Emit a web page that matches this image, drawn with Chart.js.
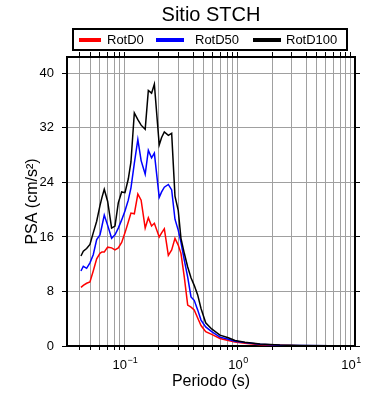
<!DOCTYPE html>
<html>
<head>
<meta charset="utf-8">
<script src="https://cdn.jsdelivr.net/npm/chart.js@4/dist/chart.umd.min.js"></script>
<style>
  html, body { margin: 0; padding: 0; background: #fff; }
</style>
</head>
<body>
<canvas id="myChart" width="390" height="400"></canvas>
<script>
// Spectral periods (s) and pseudo-acceleration values (cm/s2)
const periods = [0.0408, 0.0428, 0.0458, 0.049, 0.0524, 0.0562, 0.0601, 0.0626, 0.0656, 0.0703,
                 0.0762, 0.0816, 0.0873, 0.0935, 0.1, 0.107, 0.113, 0.121, 0.13, 0.139,
                 0.151, 0.161, 0.172, 0.182, 0.201, 0.211, 0.223, 0.242, 0.259, 0.277,
                 0.296, 0.313, 0.335, 0.359, 0.384, 0.41, 0.44, 0.471, 0.518, 0.585,
                 0.693, 0.821, 0.941, 1.15, 1.57, 2.35, 3.54, 6.52, 10];
const rotD0 = [8.6, 8.9, 9.2, 9.4, 11.0, 12.8, 13.6, 13.8, 13.8, 14.5,
               14.4, 14.1, 14.4, 15.2, 16.6, 18.2, 19.5, 19.4, 22.3, 21.4,
               17.3, 18.8, 17.6, 18.0, 16.0, 16.6, 17.2, 13.3, 14.1, 15.8,
               14.8, 13.6, 10.1, 6.0, 5.7, 5.3, 4.1, 3.0, 2.1, 1.7,
               1.1, 0.8, 0.6, 0.4, 0.2, 0.1, 0.05, 0.02, 0.01];
const rotD50 = [11.0, 11.7, 11.4, 12.2, 13.4, 15.6, 16.3, 17.6, 19.2, 17.7,
                15.8, 16.3, 17.3, 18.5, 19.8, 21.4, 23.2, 26.8, 30.3, 27.2,
                25.2, 28.7, 27.6, 28.3, 21.8, 22.6, 23.3, 23.7, 22.9, 18.6,
                17.0, 15.2, 12.6, 10.1, 7.2, 6.7, 5.3, 3.8, 2.8, 2.1,
                1.3, 1.0, 0.7, 0.5, 0.26, 0.12, 0.06, 0.03, 0.02];
const rotD100 = [13.2, 13.9, 14.3, 14.9, 16.6, 18.3, 20.6, 21.8, 23.0, 21.2,
                 17.3, 17.6, 21.0, 22.6, 22.5, 24.5, 27.0, 34.2, 33.2, 32.4,
                 31.8, 37.5, 37.1, 38.4, 29.5, 30.6, 31.4, 30.9, 31.2, 22.0,
                 19.9, 15.8, 13.6, 11.6, 10.0, 8.9, 7.5, 5.5, 3.4, 2.5,
                 1.6, 1.2, 0.8, 0.55, 0.3, 0.13, 0.07, 0.03, 0.02];

const seriesNames = ["RotD0", "RotD50", "RotD100"];
const seriesColors = ["#ff0000", "#0000ff", "#000000"];
const chartTitle = "Sitio STCH";

// Axis ticks
const xGridTicks = [0.04, 0.05, 0.06, 0.07, 0.08, 0.09,
                    0.1, 0.2, 0.3, 0.4, 0.5, 0.6, 0.7, 0.8, 0.9,
                    1, 2, 3, 4, 5, 6, 7, 8, 9, 10];
const xMajorTicks = [0.1, 1, 10];
const xMajorExps = ["\u22121", "0", "1"];
const yTicks = [0, 8, 16, 24, 32, 40];

const X_MIN = 0.0307, X_MAX = 10.85;
const Y_MIN = 0, Y_MAX = 42.4;
const FONT = '"Liberation Sans", Arial, Helvetica, sans-serif';

const seriesValues = [rotD0, rotD50, rotD100];

function setXTicks(scale) {
    scale.ticks = xGridTicks.map(v => ({ value: v, major: xMajorTicks.includes(v) }));
}
function setYTicks(scale) {
    scale.ticks = yTicks.map(v => ({ value: v }));
}

// title, boxed legend and 10^n labels like the original figure
const titleLegend = {
    id: "titleLegend",
    afterDraw(chart) {
        const ctx = chart.ctx;
        const area = chart.chartArea;
        ctx.save();
        ctx.fillStyle = "#000";
        ctx.font = "20px " + FONT;
        ctx.textAlign = "center";
        ctx.textBaseline = "middle";
        ctx.fillText(chartTitle, (area.left + area.right) / 2, 15);

        ctx.lineWidth = 2;
        ctx.strokeStyle = "#000";
        ctx.strokeRect(73, 29, 274, 21);

        const lineStart = [79, 156, 253];
        const lineEnd = [101, 184, 281];
        const textStart = [107, 195, 286];
        ctx.font = "13px " + FONT;
        ctx.textAlign = "left";
        chart.data.datasets.forEach((ds, i) => {
            ctx.strokeStyle = ds.borderColor;
            ctx.lineWidth = 4;
            ctx.beginPath();
            ctx.moveTo(lineStart[i], 40);
            ctx.lineTo(lineEnd[i], 40);
            ctx.stroke();
            ctx.fillStyle = "#000";
            ctx.fillText(ds.label, textStart[i], 40);
        });

        // x tick labels as 10 with a raised exponent
        const xs = chart.scales.x;
        ctx.textBaseline = "alphabetic";
        ctx.fillStyle = "#000";
        xMajorTicks.forEach((v, i) => {
            const px = xs.getPixelForValue(v);
            ctx.font = "13px " + FONT;
            const wBase = ctx.measureText("10").width;
            ctx.font = "9px " + FONT;
            const wExp = ctx.measureText(xMajorExps[i]).width;
            const x0 = px - (wBase + wExp) / 2;
            ctx.font = "13px " + FONT;
            ctx.fillText("10", x0, 369);
            ctx.font = "9px " + FONT;
            ctx.fillText(xMajorExps[i], x0 + wBase + 0.5, 363);
        });
        ctx.restore();
    }
};

const ctx = document.getElementById("myChart").getContext("2d");

const myChart = new Chart(ctx, {
    type: "line",
    data: {
        datasets: seriesNames.map((name, i) => ({
            label: name,
            data: periods.map((p, j) => ({ x: p, y: seriesValues[i][j] })),
            borderColor: seriesColors[i],
            backgroundColor: seriesColors[i],
            borderWidth: 1.5,
            pointRadius: 0,
            tension: 0,
            fill: false,
            order: 2 - i
        }))
    },
    options: {
        responsive: false,
        animation: false,
        devicePixelRatio: 1,
        layout: { padding: { top: 52, left: 0, right: 0, bottom: 0 } },
        scales: {
            x: {
                type: "logarithmic",
                position: "bottom",
                min: X_MIN,
                max: X_MAX,
                afterBuildTicks: setXTicks,
                afterFit: (scale) => { scale.height = 54; },
                grid: { color: "#a0a0a0", lineWidth: 1, tickLength: 4, tickColor: "#000" },
                border: { color: "#000", width: 2 },
                ticks: {
                    autoSkip: false,
                    maxRotation: 0,
                    callback: () => ""
                },
                title: {
                    display: true,
                    text: "Periodo (s)",
                    color: "#000",
                    font: { family: FONT, size: 16 },
                    padding: { top: 0, bottom: 9 }
                }
            },
            x2: {
                type: "logarithmic",
                position: "top",
                min: X_MIN,
                max: X_MAX,
                afterBuildTicks: setXTicks,
                afterFit: (scale) => { scale.height = 5; },
                grid: { drawOnChartArea: false, color: "#000", tickLength: 5 },
                border: { color: "#000", width: 2 },
                ticks: { display: false }
            },
            y: {
                type: "linear",
                position: "left",
                min: Y_MIN,
                max: Y_MAX,
                afterBuildTicks: setYTicks,
                afterFit: (scale) => { scale.width = 67; },
                grid: { color: "#a0a0a0", lineWidth: 1, tickLength: 5, tickColor: "#000" },
                border: { color: "#000", width: 2 },
                ticks: {
                    padding: 8,
                    color: "#000",
                    font: { family: FONT, size: 13 }
                },
                title: {
                    display: true,
                    text: "PSA (cm/s\u00B2)",
                    color: "#000",
                    font: { family: FONT, size: 16 },
                    padding: { top: 23, bottom: 0 }
                }
            },
            y2: {
                type: "linear",
                position: "right",
                min: Y_MIN,
                max: Y_MAX,
                afterBuildTicks: setYTicks,
                afterFit: (scale) => { scale.width = 35; },
                grid: { drawOnChartArea: false, color: "#000", tickLength: 5 },
                border: { color: "#000", width: 2 },
                ticks: { display: false }
            }
        },
        plugins: {
            legend: { display: false },
            title: { display: false },
            tooltip: { enabled: false }
        }
    },
    plugins: [titleLegend]
});
</script>
</body>
</html>
